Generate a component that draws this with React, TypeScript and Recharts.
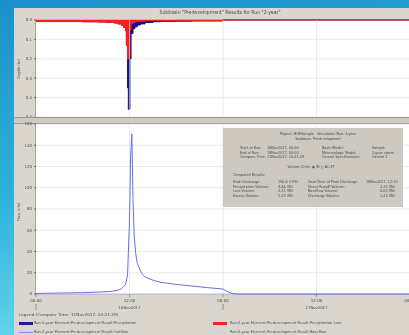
import React from "react";
import { ComposedChart, Area, Line, XAxis, YAxis, CartesianGrid, ReferenceLine } from "recharts";

// ── Precipitation / loss (top plot, depth per interval, inches) ──────────────
const rainHours = [0, 2, 4, 6, 8, 9, 10, 10.5, 11, 11.25, 11.5, 11.6, 11.75, 11.85, 12.05, 12.2, 12.45, 12.7, 13, 13.4, 14, 15, 16, 18, 20, 22, 24, 36, 48];
const precipIn  = [0.008, 0.008, 0.008, 0.009, 0.01, 0.012, 0.015, 0.02, 0.028, 0.038, 0.055, 0.13, 0.35, 0.46, 0.2, 0.07, 0.045, 0.035, 0.026, 0.02, 0.013, 0.009, 0.007, 0.006, 0.005, 0.005, 0, 0, 0];
const lossIn    = [0.008, 0.008, 0.008, 0.009, 0.01, 0.012, 0.015, 0.02, 0.028, 0.038, 0.055, 0.13, 0.2, 0.2, 0.05, 0.018, 0.012, 0.009, 0.007, 0.006, 0.004, 0.003, 0.003, 0.002, 0.002, 0.002, 0, 0, 0];

// ── Outflow / baseflow (bottom plot, cfs) ────────────────────────────────────
const flowHours   = [0, 2, 4, 6, 8, 9, 10, 10.5, 11, 11.5, 11.75, 12, 12.15, 12.3, 12.45, 12.6, 12.8, 13, 13.5, 14, 15, 16, 17, 18, 20, 22, 24, 24.5, 25, 25.5, 26, 30, 36, 42, 48];
const outflowCfs  = [0.5, 0.8, 1, 1.3, 1.8, 2.2, 2.8, 3.5, 5, 9, 18, 70, 130, 150.6, 90, 55, 38, 29, 20, 16, 13, 11, 10, 9, 7.5, 6, 4.7, 2.5, 1, 0.3, 0, 0, 0, 0, 0];
const baseflowCfs = flowHours.map(() => 0);

const timeTicks  = [0, 12, 24, 36, 48];
const timeLabels = ["00:00", "12:00", "00:00", "12:00", "00:00"];
const dayLabels  = ["", "16Nov2017", "", "17Nov2017", ""];
const depthTicks = [0, 0.1, 0.2, 0.3, 0.4, 0.5];
const flowTicks  = [0, 20, 40, 60, 80, 100, 120, 140, 160];

const rainData = rainHours.map((h, i) => ({ h, precip: precipIn[i], loss: lossIn[i] }));
const flowData = flowHours.map((h, i) => ({ h, outflow: outflowCfs[i], baseflow: baseflowCfs[i] }));

const FONT = '"DejaVu Sans", "Liberation Sans", sans-serif';
const TXT = "#4a4a4a";
const BASE = 8; // real font size, then scaled down (avoids any minimum font size)

// svg text scaled down to `size` px
function SvgT({ x, y, size, anchor = "middle", children }: any) {
  return (
    <g transform={`translate(${x},${y}) scale(${size / BASE})`}>
      <text x={0} y={0} dy="0.35em" textAnchor={anchor} fontSize={BASE} fill={TXT} fontFamily={FONT}>{children}</text>
    </g>
  );
}

function TimeTick({ x, y, payload }: any) {
  const i = timeTicks.indexOf(payload.value);
  return (
    <g>
      <line x1={x} x2={x} y1={y} y2={y + 3} stroke="#666" strokeWidth={0.6} />
      <SvgT x={x} y={y + 7} size={4}>{timeLabels[i]}</SvgT>
      {dayLabels[i]
        ? <SvgT x={x} y={y + 14} size={3.8}>{dayLabels[i]}</SvgT>
        : <line x1={x} x2={x} y1={y + 10} y2={y + 16} stroke="#666" strokeWidth={0.6} />}
    </g>
  );
}

function DepthTick({ x, y, payload }: any) {
  return <SvgT x={x} y={y} size={3.9} anchor="end">{Number(payload.value).toFixed(1)}</SvgT>;
}

function FlowTick({ x, y, payload }: any) {
  return <SvgT x={x} y={y} size={3.9} anchor="end">{payload.value}</SvgT>;
}

// html text: x = anchor point, y = vertical centre, size = visual px
function T({ x, y, children, anchor = "start", size = 3.4, rotate = false }: any) {
  const k = size / BASE;
  const tx = anchor === "middle" ? " translateX(-50%)" : anchor === "end" ? " translateX(-100%)" : "";
  const tr = rotate ? `rotate(-90deg) scale(${k}) translate(-50%,-50%)` : `scale(${k})${tx} translateY(-50%)`;
  return (
    <div style={{
      position: "absolute", left: x, top: y, transform: tr, transformOrigin: "0 0",
      fontSize: BASE, lineHeight: 1, color: TXT, whiteSpace: "nowrap", fontFamily: FONT,
    }}>
      {children}
    </div>
  );
}

function Swatch({ x, y, color, thick }: any) {
  return <div style={{ position: "absolute", left: x, top: y - (thick ? 1.5 : 0.5), width: 14, height: thick ? 3 : 1, background: color }} />;
}

export default function App() {
  return (
    <div style={{
      position: "absolute", left: 0, top: 0, width: 409, height: 335, overflow: "hidden",
      background: "linear-gradient(170deg, #1b8fcb 0%, #2fb2dc 50%, #7ae6f2 100%)",
      filter: "blur(0.35px)",
    }}>
      {/* window */}
      <div style={{ position: "absolute", left: 14, top: 8, width: 400, height: 330, background: "#dad6ce" }} />
      <T x={220} y={13} anchor="middle" size={4.6}>Subbasin "Predevelopment" Results for Run "2-year"</T>

      {/* plot frames */}
      <div style={{ position: "absolute", left: 36, top: 20, width: 374, height: 97, background: "#fff", boxShadow: "0 0 0 0.6px #888" }} />
      <div style={{ position: "absolute", left: 14, top: 117, width: 400, height: 7, background: "#cfcbc3", borderTop: "0.6px solid #999", borderBottom: "0.6px solid #999", boxSizing: "border-box" }} />
      <div style={{ position: "absolute", left: 36, top: 124, width: 374, height: 170, background: "#fff", boxShadow: "0 0 0 0.6px #888" }} />

      {/* top: precipitation & loss */}
      <div style={{ position: "absolute", left: 0, top: 0 }}>
        <ComposedChart width={420} height={117} data={rainData} margin={{ top: 20, right: 10, bottom: 0, left: 14 }}>
          <CartesianGrid vertical={false} stroke="#dedede" strokeWidth={0.6} />
          <XAxis type="number" dataKey="h" domain={[0, 48]} ticks={timeTicks} hide height={0} />
          <YAxis type="number" domain={[0, 0.5]} ticks={depthTicks} reversed width={22} tickSize={2}
            tick={<DepthTick />} axisLine={false} stroke="#666" interval={0} />
          {[12, 24, 36].map((t) => <ReferenceLine key={t} x={t} stroke="#dedede" strokeWidth={0.6} />)}
          <Area type="stepAfter" dataKey="precip" stroke="#12128a" strokeWidth={1} fill="#12128a" fillOpacity={1} baseValue={0} isAnimationActive={false} />
          <Area type="stepAfter" dataKey="loss" stroke="#ff1e1e" strokeWidth={1} fill="#ff1e1e" fillOpacity={1} baseValue={0} isAnimationActive={false} />
        </ComposedChart>
      </div>
      <T x={19} y={69} rotate size={4}>Depth (in)</T>

      {/* bottom: outflow */}
      <div style={{ position: "absolute", left: 0, top: 118 }}>
        <ComposedChart width={420} height={200} data={flowData} margin={{ top: 6, right: 10, bottom: 0, left: 14 }}>
          <CartesianGrid vertical={false} stroke="#dedede" strokeWidth={0.6} />
          <XAxis type="number" dataKey="h" domain={[0, 48]} ticks={timeTicks} height={24} interval={0}
            tick={<TimeTick />} tickLine={false} axisLine={false} tickSize={0} tickMargin={0} />
          <YAxis type="number" domain={[0, 160]} ticks={flowTicks} width={22} tickSize={2}
            tick={<FlowTick />} axisLine={false} stroke="#666" interval={0} />
          {[12, 24, 36].map((t) => <ReferenceLine key={t} x={t} stroke="#dedede" strokeWidth={0.6} />)}
          <Line type="linear" dataKey="baseflow" stroke="#c9c9f2" strokeWidth={1} dot={false} isAnimationActive={false} />
          <Line type="linear" dataKey="outflow" stroke="#6d6de6" strokeWidth={1} dot={false} isAnimationActive={false} />
        </ComposedChart>
      </div>
      <T x={19} y={212} rotate size={4}>Flow (cfs)</T>

      {/* summary box */}
      <div style={{ position: "absolute", left: 223, top: 128, width: 180, height: 79, background: "#cdc9c1" }} />
      <T x={318} y={134} anchor="middle">Project: HGKSample&nbsp;&nbsp;&nbsp;Simulation Run: 2-year</T>
      <T x={318} y={139} anchor="middle">Subbasin: Predevelopment</T>
      <T x={240} y={148}>Start of Run:</T><T x={267} y={148}>16Nov2017, 00:00</T>
      <T x={240} y={152.5}>End of Run:</T><T x={267} y={152.5}>18Nov2017, 00:00</T>
      <T x={240} y={157}>Compute Time:</T><T x={267} y={157}>11Nov2017, 20:21:29</T>
      <T x={322} y={148}>Basin Model:</T><T x={372} y={148}>Sample</T>
      <T x={322} y={152.5}>Meteorologic Model:</T><T x={372} y={152.5}>2-year storm</T>
      <T x={322} y={157}>Control Specifications:</T><T x={372} y={157}>Control 1</T>
      <T x={311} y={167} anchor="middle">Volume Units: ◉ IN ○ AC-FT</T>
      <T x={233} y={175}>Computed Results:</T>
      <T x={233} y={182}>Peak Discharge:</T><T x={278} y={182}>150.6 (CFS)</T>
      <T x={233} y={186.5}>Precipitation Volume:</T><T x={278} y={186.5}>3.44 (IN)</T>
      <T x={233} y={191}>Loss Volume:</T><T x={278} y={191}>2.21 (IN)</T>
      <T x={233} y={195.5}>Excess Volume:</T><T x={278} y={195.5}>1.23 (IN)</T>
      <T x={308} y={182}>Date/Time of Peak Discharge:</T><T x={366} y={182}>16Nov2017, 12:10</T>
      <T x={308} y={186.5}>Direct Runoff Volume:</T><T x={380} y={186.5}>1.23 (IN)</T>
      <T x={308} y={191}>Baseflow Volume:</T><T x={380} y={191}>0.00 (IN)</T>
      <T x={308} y={195.5}>Discharge Volume:</T><T x={380} y={195.5}>1.23 (IN)</T>

      {/* legend */}
      <T x={19} y={315} size={4.2}>Legend (Compute Time: 11Nov2017, 20:21:29)</T>
      <Swatch x={19} y={323} color="#1e1e8c" thick />
      <T x={34} y={323} size={3.6}>Run:2-year Element:Predevelopment Result:Precipitation</T>
      <Swatch x={19} y={332} color="#8a8aee" />
      <T x={34} y={332} size={3.6}>Run:2-year Element:Predevelopment Result:Outflow</T>
      <Swatch x={213} y={323} color="#ff2020" thick />
      <T x={230} y={323} size={3.6}>Run:2-year Element:Predevelopment Result:Precipitation Loss</T>
      <Swatch x={213} y={332} color="#c9c9f2" />
      <T x={230} y={332} size={3.6}>Run:2-year Element:Predevelopment Result:Baseflow</T>
    </div>
  );
}
